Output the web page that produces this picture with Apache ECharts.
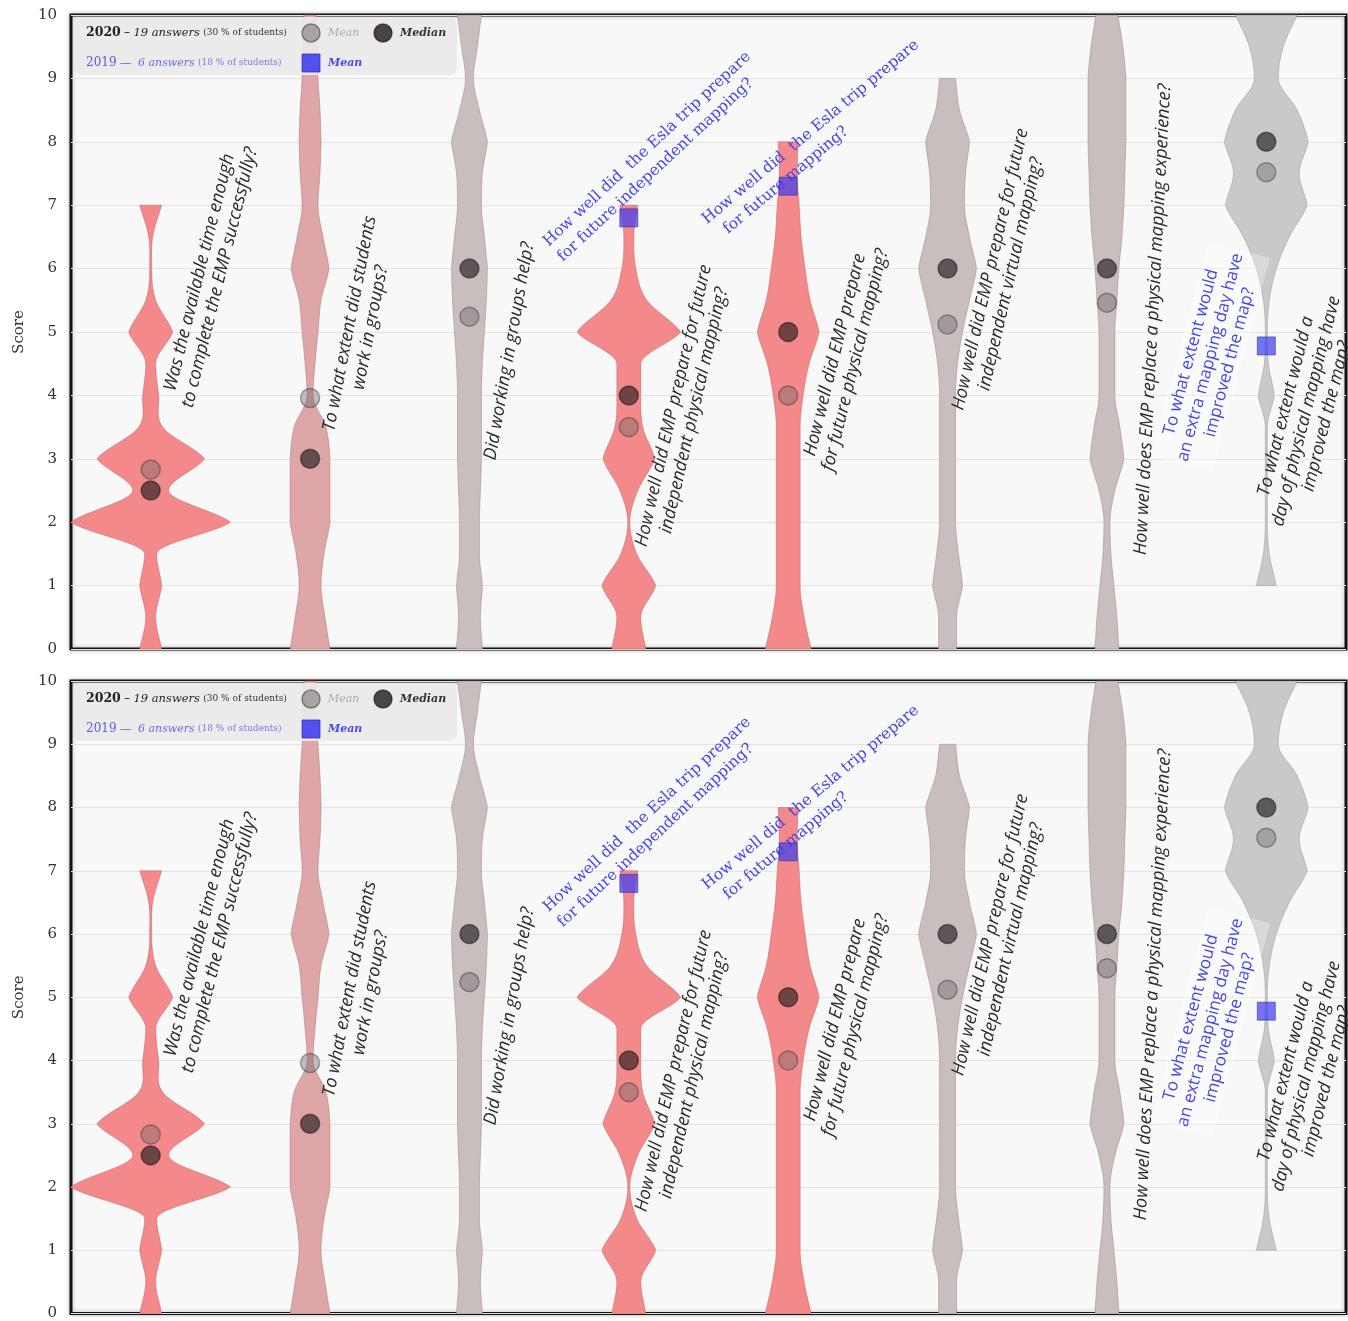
<!DOCTYPE html>
<html>
<head>
<meta charset="utf-8">
<script src="https://cdn.jsdelivr.net/npm/echarts@6/dist/echarts.min.js"></script>
<style>
html,body{margin:0;padding:0;background:#ffffff;}
#chart{width:1348px;height:1321px;}
</style>
</head>
<body>
<div id="chart"></div>
<script>
// ---------------- DATA ----------------
const categories = [
  'Was the available time enough to complete the EMP successfully?',
  'To what extent did students work in groups?',
  'Did working in groups help?',
  'How well did EMP prepare for future independent physical mapping?',
  'How well did EMP prepare for future physical mapping?',
  'How well did EMP prepare for future independent virtual mapping?',
  'How well does EMP replace a physical mapping experience?',
  'To what extent would a day of physical mapping have improved the map?'
];
const yTicks = [0,1,2,3,4,5,6,7,8,9,10];
// score levels at which violin density (half-width) was read
const scoreLevels = [0,0.5,1,1.5,2,2.5,3,3.5,4,4.5,5,5.5,6,6.5,7,7.5,8,8.5,9,9.5,10];
// violin densities (relative half-width, 80 = half of category band)
const densityQ1 = [11,5,11,6,80,18,54,12,8,5,22,5,1,2,11,null,null,null,null,null,null];
const densityQ2 = [20,15,11,14,20,20,20,16,3,5,8,11,19,13,8,10,11,10,8,7,6];
const densityQ3 = [13,11,13,10,10,11,12,12,12,13,15,17,18,15,12,13,18,10,4,8,12];
const densityQ4 = [17,12,27,8,1,9,26,14,12,12,52,18,7,5,9,null,null,null,null,null,null];
const densityQ5 = [23,16,12,12,12,12,12,12,15,21,31,22,17,13,11,9,10,null,null,null,null];
const densityQ6 = [9,9,15,11,8,8,8,8,8,10,15,22,29,22,17,18,22,12,8,null,null];
const densityQ7 = [12,10,7,4,3,8,17,13,8,8,8,10,12,15,17,18,19,19,19,16,11];
const densityQ8 = [null,null,10,3,1,1,1,1,8,2,1,3,10,23,41,33,42,31,12,17,31];
const violinDensity = [densityQ1,densityQ2,densityQ3,densityQ4,densityQ5,densityQ6,densityQ7,densityQ8];

const mean2020   = [2.83, 3.96, 5.24, 3.5, 4.0, 5.12, 5.46, 7.52];
const median2020 = [2.5, 3, 6, 4, 5, 6, 6, 8];
const mean2019   = [null, null, null, 6.8, 7.3, null, null, 4.78];

const annotationTexts = [
  'Was the available time enough\nto complete the EMP successfully?',
  'To what extent did students\nwork in groups?',
  'Did working in groups help?',
  'How well did EMP prepare for future\nindependent physical mapping?',
  'How well did EMP prepare\nfor future physical mapping?',
  'How well did EMP prepare for future\nindependent virtual mapping?',
  'How well does EMP replace a physical mapping experience?',
  'To what extent would a\nday of physical mapping have\nimproved the map?',
  'How well did  the Esla trip prepare\nfor future independent mapping?',
  'How well did  the Esla trip prepare\n  for future mapping?',
  'To what extent would\nan extra mapping day have\nimproved the map?'
];

// ---------------- LAYOUT / STYLE ----------------
const annotationLayout = [
  {cat:0, score:5.9,  dx:59, angle:76, kind:'q', align:'center'},
  {cat:1, score:5.1,  dx:50, angle:79, kind:'q', align:'center'},
  {cat:2, score:4.7,  dx:40, angle:80, kind:'q', align:'center'},
  {cat:3, score:3.8,  dx:55, angle:77, kind:'q', align:'center'},
  {cat:4, score:4.6,  dx:57, angle:76, kind:'q', align:'center'},
  {cat:5, score:5.95, dx:53, angle:77, kind:'q', align:'center'},
  {cat:6, score:5.2,  dx:46, angle:87, kind:'q', align:'center'},
  {cat:7, score:3.75, dx:40, angle:76, kind:'q', align:'center'},
  {cat:3, score:6.27, dx:-76, angle:43, kind:'b', align:'left'},
  {cat:4, score:6.62, dx:-77, angle:40, kind:'b', align:'left'},
  {cat:7, score:4.6,  dx:-56, angle:75, kind:'bs', align:'center'}
];
const violinColors = ['#f3898a','#dea6a6','#c9bebe','#f3898a','#f3898a','#c9bebe','#c9bebe','#c9c9c9'];
const violinStroke = ['rgba(180,90,90,0.45)','rgba(160,110,110,0.45)','rgba(140,125,125,0.45)','rgba(180,90,90,0.45)','rgba(180,90,90,0.45)','rgba(140,125,125,0.45)','rgba(140,125,125,0.45)','rgba(140,140,140,0.45)'];
const meanStyle = {color:'rgba(105,100,100,0.5)', borderColor:'rgba(60,55,55,0.55)', borderWidth:1.5};
const medianStyle = {color:'rgba(38,30,30,0.82)', borderColor:'rgba(0,0,0,0.55)', borderWidth:1.5};
const blueStyle = {color:'rgba(60,60,240,0.88)', borderColor:'rgba(40,40,170,0.7)', borderWidth:1};
const SERIF = '"DejaVu Serif", serif';
const SANS = '"Open Sans", "Noto Sans", sans-serif';
const PEAK_SHARPNESS = 0.6;

const panelTops = [15, 681];
const gridLeft = 71, gridWidth = 1275, gridHeight = 634;

// tangent of the density outline at level j (slightly pointed peaks, rounded necks)
function tangentAt(w, lo, hi, j, side) {
  const b = w[j];
  const a = j > lo ? w[j - 1] : null;
  const c = j < hi ? w[j + 1] : null;
  if (a == null) return c - b;
  if (c == null) return b - a;
  if (b >= a && b >= c) return PEAK_SHARPNESS * (side === 'right' ? (c - b) : (b - a));
  if (b <= a && b <= c) return 0;
  return (c - a) / 2;
}

function violinRender(params, api) {
  const i = api.value(0);
  const w = violinDensity[i];
  let lo = 0; while (w[lo] == null) lo++;
  let hi = w.length - 1; while (w[hi] == null) hi--;
  const k = (api.size([1, 0])[0] / 2) / 80;
  const cx = api.coord([i, 0])[0];
  const right = [], left = [];
  const N = 14;
  for (let j = lo; j <= hi; j++) {
    const steps = j === hi ? 1 : N;
    const m1 = j < hi ? tangentAt(w, lo, hi, j, 'right') : 0;
    const m2 = j < hi ? tangentAt(w, lo, hi, j + 1, 'left') : 0;
    for (let t = 0; t < steps; t++) {
      const u = t / N;
      let v;
      if (j === hi) v = w[hi];
      else {
        const p1 = w[j], p2 = w[j + 1];
        const u2 = u * u, u3 = u2 * u;
        v = (2 * u3 - 3 * u2 + 1) * p1 + (u3 - 2 * u2 + u) * m1 + (-2 * u3 + 3 * u2) * p2 + (u3 - u2) * m2;
        v = Math.min(v, Math.max(p1, p2));
        v = Math.max(v, Math.min(p1, p2) * 0.5);
      }
      v = Math.max(0.7, v);
      const s = j < hi ? scoreLevels[j] + (scoreLevels[j + 1] - scoreLevels[j]) * u : scoreLevels[j];
      const y = api.coord([i, s])[1];
      right.push([cx + v * k, y]);
      left.push([cx - v * k, y]);
    }
  }
  return {
    type: 'polygon',
    shape: {points: right.concat(left.reverse())},
    style: {fill: violinColors[i], stroke: violinStroke[i], lineWidth: 1}
  };
}

function annotRender(params, api) {
  const idx = params.dataIndex;
  const a = annotationLayout[idx];
  const p = api.coord([a.cat, a.score]);
  let style;
  if (a.kind === 'q') {
    style = {fontFamily: SANS, fontStyle: 'italic', fontSize: 18, fill: '#2a2a2a', lineHeight: 21};
  } else if (a.kind === 'b') {
    style = {fontFamily: SERIF, fontSize: 15.5, fill: '#4646e6', lineHeight: 21};
  } else {
    style = {fontFamily: SANS, fontSize: 17, fill: '#4646e6', lineHeight: 20,
             backgroundColor: 'rgba(255,255,255,0.3)', padding: [2, 4]};
  }
  style.text = annotationTexts[idx];
  style.align = a.align;
  style.verticalAlign = 'middle';
  return {
    type: 'text', x: p[0] + a.dx, y: p[1],
    rotation: a.angle * Math.PI / 180,
    style: style
  };
}

const grids = [], xAxes = [], yAxes = [], series = [], graphics = [];
panelTops.forEach((top, g) => {
  grids.push({left: gridLeft, top: top, width: gridWidth, height: gridHeight, show: true,
    backgroundColor: '#f8f8f8', borderColor: '#141414', borderWidth: 3,
    shadowBlur: 4, shadowColor: 'rgba(0,0,0,0.25)'});
  xAxes.push({type: 'category', gridIndex: g, data: categories, boundaryGap: true,
    axisLine: {show: false}, axisTick: {show: false}, axisLabel: {show: false}, splitLine: {show: false}});
  yAxes.push({type: 'value', gridIndex: g, min: yTicks[0], max: yTicks[yTicks.length - 1], interval: 1,
    axisLine: {show: false}, axisTick: {show: false},
    axisLabel: {fontFamily: SERIF, fontSize: 15, color: '#333', margin: 14},
    splitLine: {lineStyle: {color: '#e4e4e4', width: 1.2}},
    name: 'Score', nameLocation: 'middle', nameGap: 44,
    nameTextStyle: {fontFamily: SERIF, fontSize: 15, color: '#333'}});
  series.push({type: 'custom', name: 'violin', xAxisIndex: g, yAxisIndex: g, silent: true, z: 2,
    renderItem: violinRender, data: categories.map((c, i) => [i, 0])});
  series.push({type: 'custom', name: 'questions', xAxisIndex: g, yAxisIndex: g, silent: true, z: 3,
    renderItem: annotRender, data: annotationLayout.map(a => [a.cat, a.score])});
  series.push({type: 'scatter', name: 'Median', xAxisIndex: g, yAxisIndex: g, z: 4, symbolSize: 19,
    itemStyle: medianStyle, data: median2020.map((v, i) => [i, v])});
  series.push({type: 'scatter', name: 'Mean', xAxisIndex: g, yAxisIndex: g, z: 5, symbolSize: 19,
    itemStyle: meanStyle, data: mean2020.map((v, i) => [i, v])});
  series.push({type: 'scatter', name: 'Mean 2019', xAxisIndex: g, yAxisIndex: g, z: 6, symbol: 'rect', symbolSize: 18,
    itemStyle: blueStyle, data: mean2019.map((v, i) => [i, v]).filter(d => d[1] != null)});

  // legend box
  const L = gridLeft, T = top;
  graphics.push({type: 'rect', z: 100, shape: {x: L + 2, y: T + 2, width: 384, height: 58, r: 8},
    style: {fill: 'rgba(233,233,233,0.93)'}});
  graphics.push({type: 'text', z: 101, x: L + 15, y: T + 18, style: {
    text: '{a|2020} {b|–} {c|19 answers} {d|(30 % of students)}',
    verticalAlign: 'middle',
    rich: {
      a: {fontFamily: SERIF, fontWeight: 'bold', fontSize: 12.5, fill: '#222'},
      b: {fontFamily: SERIF, fontSize: 12, fill: '#222'},
      c: {fontFamily: SERIF, fontStyle: 'italic', fontSize: 11.5, fill: '#222'},
      d: {fontFamily: SERIF, fontSize: 9, fill: '#333'}
    }}});
  graphics.push({type: 'circle', z: 101, shape: {cx: 311, cy: T + 18, r: 9},
    style: {fill: meanStyle.color, stroke: meanStyle.borderColor, lineWidth: 1.5}});
  graphics.push({type: 'text', z: 101, x: 328, y: T + 18, style: {text: 'Mean', verticalAlign: 'middle',
    fontFamily: SERIF, fontStyle: 'italic', fontSize: 11, fill: '#aaa'}});
  graphics.push({type: 'circle', z: 101, shape: {cx: 383, cy: T + 18, r: 9},
    style: {fill: medianStyle.color, stroke: medianStyle.borderColor, lineWidth: 1.5}});
  graphics.push({type: 'text', z: 101, x: 400, y: T + 18, style: {text: 'Median', verticalAlign: 'middle',
    fontFamily: SERIF, fontStyle: 'italic', fontWeight: 'bold', fontSize: 11, fill: '#333'}});
  graphics.push({type: 'text', z: 101, x: L + 15, y: T + 48, style: {
    text: '{a|2019} {b|—}  {c|6 answers} {d|(18 % of students)}',
    verticalAlign: 'middle',
    rich: {
      a: {fontFamily: SERIF, fontSize: 12, fill: '#5a5ae6'},
      b: {fontFamily: SERIF, fontSize: 11.5, fill: '#5a5ae6'},
      c: {fontFamily: SERIF, fontStyle: 'italic', fontSize: 11, fill: '#6a6ae6'},
      d: {fontFamily: SERIF, fontSize: 9, fill: '#7a7ae6'}
    }}});
  graphics.push({type: 'rect', z: 101, shape: {x: 302, y: T + 39, width: 18, height: 18},
    style: {fill: blueStyle.color, stroke: blueStyle.borderColor, lineWidth: 1}});
  graphics.push({type: 'text', z: 101, x: 328, y: T + 48, style: {text: 'Mean', verticalAlign: 'middle',
    fontFamily: SERIF, fontStyle: 'italic', fontWeight: 'bold', fontSize: 11, fill: '#4a4ae6'}});
});

const chart = echarts.init(document.getElementById('chart'), null, {renderer: 'canvas'});
chart.setOption({
  animation: false,
  backgroundColor: '#ffffff',
  grid: grids,
  xAxis: xAxes,
  yAxis: yAxes,
  series: series,
  graphic: {elements: graphics}
});
</script>
</body>
</html>
